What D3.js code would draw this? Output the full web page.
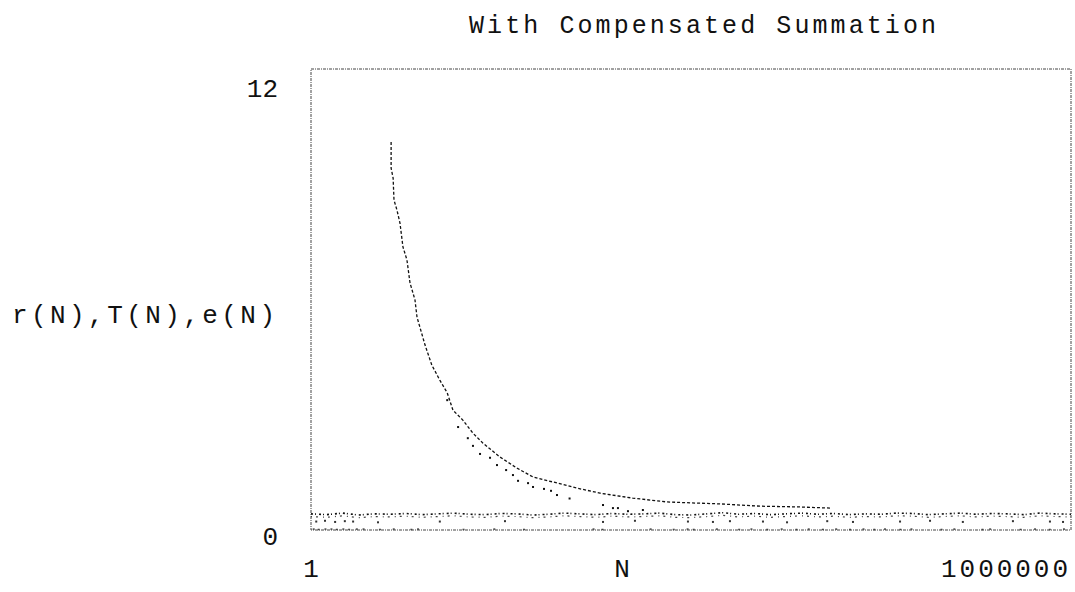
<!DOCTYPE html>
<html><head><meta charset="utf-8">
<script src="https://cdn.jsdelivr.net/npm/d3@7"></script>
<style>
html,body{margin:0;padding:0;background:#fff;}
text{font-family:"Liberation Mono","DejaVu Sans Mono",monospace;fill:#111;}
</style></head>
<body>
<svg id="chart" width="1075" height="592"></svg>
<script>
// ---- data ----
const title = "With Compensated Summation";
const yLabel = "r(N),T(N),e(N)";
const xLabel = "N";
const xTicks = [1, 1000000];
const xTickLabels = ["1", "1000000"];
const yTicks = [0, 12];
const yTickLabels = ["0", "12"];

// r(N): upper curve
const rN   = [4.29,4.29,4.45,4.52,4.77,5.04,5.32,5.72,6.05,6.62,6.87,7.94,9.0,10.4,11.9,13.2,15.8,19.0,22.8,31.0,42.3,56.6,81.3,126,191,347,646,1120,1690,3500,7200,12600];
const rVal = [10.10,9.42,9.16,8.59,8.33,7.99,7.37,7.03,6.43,5.99,5.54,4.82,4.29,3.90,3.57,3.12,2.86,2.52,2.26,1.90,1.61,1.38,1.25,1.09,0.96,0.83,0.73,0.70,0.68,0.62,0.60,0.57];

// T(N): lower dotted curve
const tN   = [11.9,14.5,17.3,19.0,21.6,25.9,29.4,34.7,39.3,43.1,51.7,56.6,69.1,78.5,87.5,110,202,242,265,318,417];
const tVal = [3.38,2.68,2.39,2.19,1.98,1.88,1.69,1.56,1.43,1.28,1.22,1.12,1.07,1.02,0.91,0.82,0.65,0.57,0.57,0.49,0.52];

// e(N): noisy band near zero
const eN   = [1,1.33,1.78,2.37,3.16,4.22,5.62,7.5,10,13.3,17.8,23.7,31.6,42.2,56.2,75,100,133,178,237,316,422,562,750,1000,1330,1780,2370,3160,4220,5620,7500,10000,13300,17800,23700,31600,42200,56200,75000,100000,133000,178000,237000,316000,422000,562000,750000,1000000];
const eVal = [0.42,0.40,0.44,0.39,0.42,0.41,0.43,0.40,0.42,0.44,0.41,0.40,0.43,0.42,0.39,0.41,0.44,0.42,0.40,0.43,0.41,0.42,0.44,0.40,0.39,0.42,0.45,0.41,0.43,0.40,0.42,0.44,0.41,0.43,0.40,0.42,0.41,0.44,0.43,0.40,0.42,0.44,0.41,0.43,0.42,0.40,0.44,0.42,0.41];
const e2N   = [1.10,1.29,1.55,1.85,2.15,3.38,10.4,34,202,361,946,1490,2030,3700,5730,11900,19000,44700,77100,140000,348000,682000,865000];
const e2Val = [0.22,0.24,0.21,0.23,0.22,0.20,0.22,0.23,0.21,0.24,0.22,0.21,0.23,0.22,0.20,0.23,0.21,0.22,0.24,0.21,0.23,0.22,0.21];
const e3N   = [1.05,1.15,1.3,1.45,1.6,1.8,2.0,2.3,2.6,3.5,4.5,6.2,7.0,16,28,48,170,200,480,730,940,1050,1600,2400,3000,4000,5200,6800,8500,11000,14000,18000,23000,28000,34000,45000,55000,95000,120000,200000,230000,400000,520000,680000,880000];
const e3Val = [0.03,0.02,0.03,0.03,0.02,0.03,0.02,0.03,0.03,0.02,0.03,0.02,0.03,0.02,0.03,0.02,0.03,0.02,0.03,0.02,0.03,0.02,0.03,0.02,0.03,0.02,0.03,0.02,0.03,0.02,0.03,0.02,0.03,0.02,0.03,0.02,0.03,0.02,0.03,0.02,0.03,0.02,0.03,0.02,0.03];

// ---- chart ----
const svg = d3.select("#chart");
const L = 311, R = 1071, T = 69, B = 530;
const x = d3.scaleLog().domain([1, 1000000]).range([L, R]);
const y = d3.scaleLinear().domain([0, 12]).range([B, T]);

// frame
svg.append("rect").attr("x", L).attr("y", T).attr("width", R - L).attr("height", B - T)
  .attr("fill", "none").attr("stroke", "#444").attr("stroke-width", 1)
  .attr("stroke-dasharray", "3,1,1,1");

// e(N) band
const line = d3.line().x(d => x(d[0])).y(d => y(d[1]));
svg.append("path").datum(eN.map((n, i) => [n, eVal[i]]))
  .attr("d", line).attr("fill", "none").attr("stroke", "#111").attr("stroke-width", 1.6)
  .attr("stroke-dasharray", "2,2,1,3");
svg.append("path").datum(eN.map((n, i) => [n, eVal[i] - 0.07]))
  .attr("d", line).attr("fill", "none").attr("stroke", "#444").attr("stroke-width", 1.2)
  .attr("stroke-dasharray", "1,4,2,5");
svg.selectAll("rect.e2").data(e2N.map((n, i) => [n, e2Val[i]])).enter().append("rect")
  .attr("class", "e2").attr("x", d => x(d[0]) - 1).attr("y", d => y(d[1]) - 1)
  .attr("width", 2).attr("height", 2).attr("fill", "#333");
svg.selectAll("rect.e3").data(e3N.map((n, i) => [n, e3Val[i]])).enter().append("rect")
  .attr("class", "e3").attr("x", d => x(d[0]) - 1).attr("y", d => y(d[1]) - 0.5)
  .attr("width", 2).attr("height", 1.5).attr("fill", "#444");

// r(N) curve
svg.append("path").datum(rN.map((n, i) => [n, rVal[i]]))
  .attr("d", line).attr("fill", "none").attr("stroke", "#111").attr("stroke-width", 1.3)
  .attr("stroke-dasharray", "3,2");

// T(N) dots
svg.selectAll("rect.t").data(tN.map((n, i) => [n, tVal[i]])).enter().append("rect")
  .attr("class", "t").attr("x", d => x(d[0]) - 1).attr("y", d => y(d[1]) - 1)
  .attr("width", 2).attr("height", 2).attr("fill", "#111");

// texts
svg.append("text").attr("x", 469).attr("y", 33).attr("font-size", 25)
  .attr("textLength", 467).attr("lengthAdjust", "spacing").text(title);
svg.append("text").attr("x", 12).attr("y", 323).attr("font-size", 26)
  .attr("textLength", 263).attr("lengthAdjust", "spacing").text(yLabel);

// y tick labels
const yOff = {0: 15, 12: 28};
yTicks.forEach((v, i) => {
  svg.append("text").attr("x", 278).attr("y", y(v) + yOff[v]).attr("font-size", 26)
    .attr("text-anchor", "end").text(yTickLabels[i]);
});
// x tick labels
svg.append("text").attr("x", x(xTicks[0])).attr("y", 577).attr("font-size", 26)
  .attr("text-anchor", "middle").text(xTickLabels[0]);
svg.append("text").attr("x", 941).attr("y", 577).attr("font-size", 26)
  .attr("textLength", 127).attr("lengthAdjust", "spacing").text(xTickLabels[1]);
svg.append("text").attr("x", 622).attr("y", 577).attr("font-size", 26)
  .attr("text-anchor", "middle").text(xLabel);
</script>
</body></html>
